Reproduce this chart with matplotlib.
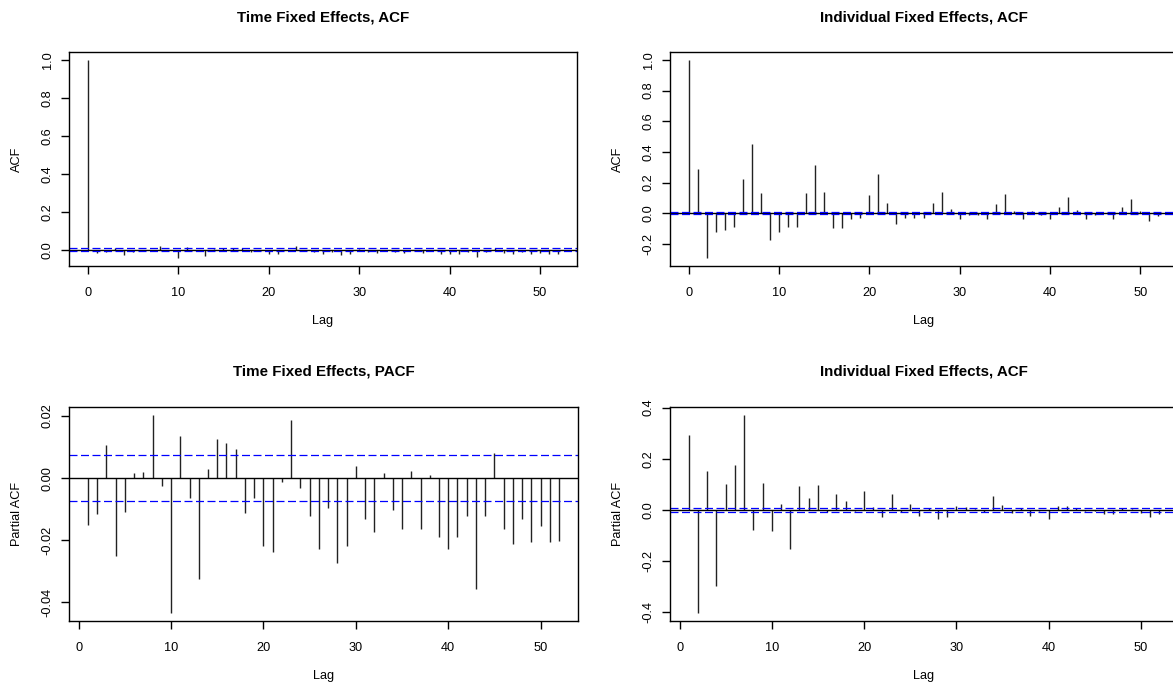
import numpy as np
import matplotlib.pyplot as plt

plt.rcParams['font.family'] = ['Liberation Sans', 'DejaVu Sans']

# data
lags_acf = list(range(0, 53))
lags_pacf = list(range(1, 53))

acf_time = [1.0,
            -0.015, -0.011, 0.010, -0.025, -0.011, 0.002, 0.002, 0.020, -0.003, -0.043,
            0.013, -0.006, -0.032, 0.003, 0.012, 0.011, 0.009, -0.011, -0.006, -0.022,
            -0.024, -0.001, 0.018, -0.003, -0.012, -0.023, -0.009, -0.027, -0.022, 0.004,
            -0.013, -0.017, 0.002, -0.010, -0.016, 0.002, -0.016, 0.001, -0.019, -0.023,
            -0.019, -0.012, -0.036, -0.012, 0.008, -0.016, -0.021, -0.013, -0.021, -0.015,
            -0.021, -0.020]

pacf_time = [-0.0151, -0.0116, 0.0107, -0.0251, -0.0108, 0.0017, 0.0020, 0.0203, -0.0025, -0.0434,
             0.0136, -0.0064, -0.0323, 0.0030, 0.0126, 0.0113, 0.0095, -0.0111, -0.0064, -0.0219,
             -0.0238, -0.0012, 0.0186, -0.0033, -0.0121, -0.0229, -0.0095, -0.0272, -0.0219, 0.0038,
             -0.0133, -0.0172, 0.0017, -0.0102, -0.0164, 0.0024, -0.0164, 0.0010, -0.0188, -0.0229,
             -0.0191, -0.0123, -0.0358, -0.0121, 0.0082, -0.0164, -0.0213, -0.0133, -0.0207, -0.0153,
             -0.0207, -0.0201]

acf_indiv = [1.0,
             0.287, -0.292, -0.121, -0.110, -0.091, 0.225, 0.451, 0.132, -0.177, -0.121,
             -0.091, -0.091, 0.132, 0.318, 0.138, -0.095, -0.095, -0.039, -0.032, 0.119,
             0.253, 0.069, -0.069, -0.030, -0.030, -0.030, 0.069, 0.138, 0.026, -0.039,
             -0.010, -0.010, -0.039, 0.063, 0.125, 0.017, -0.039, 0.013, -0.010, -0.039,
             0.043, 0.106, 0.019, -0.039, -0.010, 0.005, -0.039, 0.039, 0.093, 0.013,
             -0.052, -0.020]

pacf_indiv = [0.292, -0.403, 0.152, -0.297, 0.100, 0.175, 0.371, -0.078, 0.106, -0.084,
              0.023, -0.153, 0.092, 0.047, 0.096, -0.009, 0.062, 0.035, -0.006, 0.074,
              0.010, -0.029, 0.062, -0.009, 0.023, -0.022, 0.008, -0.036, -0.026, 0.017,
              0.013, 0.004, -0.009, 0.055, 0.019, -0.013, 0.008, -0.022, -0.006, -0.036,
              0.017, 0.017, 0.008, -0.006, -0.003, -0.017, -0.017, 0.008, 0.004, -0.013,
              -0.026, -0.017]

ci = 0.0074

W, H = 1173, 688
fig = plt.figure(figsize=(W / 100, H / 100), dpi=100)


def box(l, r, t, b):
    return [l / W, 1 - b / H, (r - l) / W, (b - t) / H]


def r_range(v):
    lo, hi = min(v), max(v)
    d = (hi - lo) * 0.04
    return lo - d, hi + d


def panel(rect, lags, vals, title, ylab, yticks, ylabels):
    ax = fig.add_axes(box(*rect))
    ax.vlines(lags, 0, vals, color='#222222', lw=1)
    ax.axhline(0, color='black', lw=1)
    ax.axhline(ci, color='blue', lw=0.9, ls=(0, (6.4, 2.8)))
    ax.axhline(-ci, color='blue', lw=0.9, ls=(0, (6.4, 2.8)))
    ax.set_xlim(*r_range(lags))
    ax.set_ylim(*r_range(list(vals) + [ci, -ci]))
    ax.set_xticks([0, 10, 20, 30, 40, 50])
    ax.set_yticks(yticks)
    ax.set_yticklabels(ylabels, rotation=90, va='center')
    ax.tick_params(direction='out', length=5.5, width=1, labelsize=9.2)
    ax.tick_params(axis='x', pad=9.5)
    ax.tick_params(axis='y', pad=5.5)
    for s in ax.spines.values():
        s.set_linewidth(1)
    l, r, t, b = rect
    fig.text(((l + r) / 2) / W, 1 - (t - 35) / H, title, ha='center', va='center',
             fontsize=10.9, fontweight='bold')
    fig.text((l - 52) / W, 1 - ((t + b) / 2) / H, ylab, rotation=90,
             ha='center', va='center', fontsize=9.2)
    fig.text(((l + r) / 2) / W, 1 - (b + 55) / H, 'Lag', ha='center',
             va='center', fontsize=9.2)
    return ax


panel((69, 577, 52, 266), lags_acf, acf_time, 'Time Fixed Effects, ACF', 'ACF',
      [0, 0.2, 0.4, 0.6, 0.8, 1.0], ['0.0', '0.2', '0.4', '0.6', '0.8', '1.0'])
panel((670, 1177, 52, 266), lags_acf, acf_indiv, 'Individual Fixed Effects, ACF', 'ACF',
      [-0.2, 0, 0.2, 0.4, 0.6, 0.8, 1.0], ['-0.2', '0.0', '0.2', '0.4', '0.6', '0.8', '1.0'])
panel((69, 578, 407, 621), lags_pacf, pacf_time, 'Time Fixed Effects, PACF', 'Partial ACF',
      [-0.04, -0.02, 0, 0.02], ['-0.04', '-0.02', '0.00', '0.02'])
panel((670, 1178, 407, 621), lags_pacf, pacf_indiv, 'Individual Fixed Effects, ACF', 'Partial ACF',
      [-0.4, -0.2, 0, 0.2, 0.4], ['-0.4', '-0.2', '0.0', '0.2', '0.4'])

fig.savefig('out.png', dpi=100)
